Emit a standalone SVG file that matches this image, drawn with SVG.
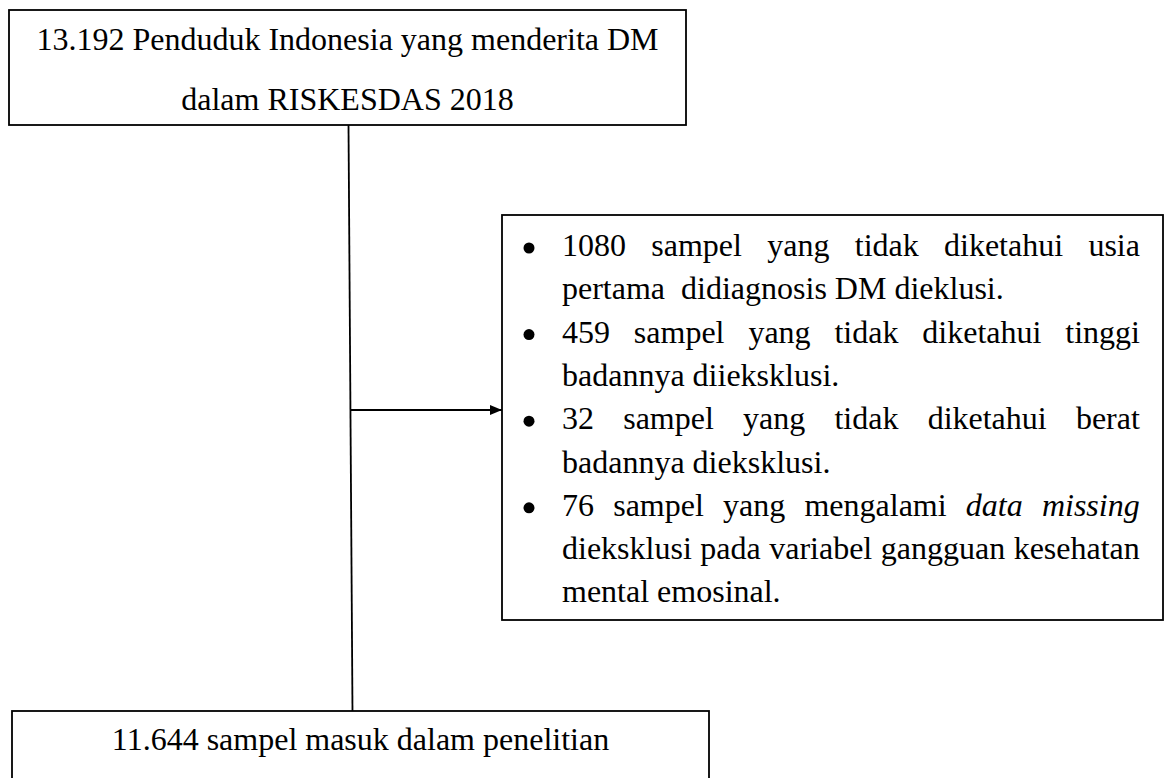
<svg xmlns="http://www.w3.org/2000/svg" width="1166" height="778" viewBox="0 0 1166 778">
<style>
.box{fill:#fff;stroke:#000;stroke-width:1.8}
.t{font-family:"Liberation Serif","Times New Roman",serif;font-size:32px;fill:#000}
.c{text-anchor:middle}
.ln{stroke:#000;stroke-width:1.8;fill:none}
</style>
<defs>
<marker id="ah" markerWidth="12" markerHeight="10" refX="12" refY="5" orient="auto" markerUnits="userSpaceOnUse">
<path d="M0,0 L12,5 L0,10 Z" fill="#000"/>
</marker>
</defs>
<rect width="1166" height="778" fill="#fff"/>
<g id="connectors">
<line class="ln" x1="348.5" y1="125" x2="352.5" y2="711"/>
<line class="ln" x1="350.5" y1="410" x2="502" y2="410" marker-end="url(#ah)"/>
</g>
<g id="node-top">
<rect class="box" x="9" y="10" width="677" height="115"/>
<text class="t c" x="347.5" y="50">13.192 Penduduk Indonesia yang menderita DM</text>
<text class="t c" x="347.5" y="110">dalam RISKESDAS 2018</text>
</g>
<g id="node-exclusion">
<rect class="box" x="502" y="215" width="661" height="405"/>
<g fill="#000">
<circle cx="529" cy="248" r="5.5"/>
<circle cx="529" cy="334.6" r="5.5"/>
<circle cx="529" cy="421.2" r="5.5"/>
<circle cx="529" cy="507.8" r="5.5"/>
</g>
<text class="t" x="562" y="256" word-spacing="17.3">1080 sampel yang tidak diketahui usia</text>
<text class="t" x="562" y="299.3" style="white-space:pre">pertama  didiagnosis DM dieklusi.</text>
<text class="t" x="562" y="342.6" word-spacing="15.87">459 sampel yang tidak diketahui tinggi</text>
<text class="t" x="562" y="385.9">badannya diieksklusi.</text>
<text class="t" x="562" y="429.2" word-spacing="21.2">32 sampel yang tidak diketahui berat</text>
<text class="t" x="562" y="472.5">badannya dieksklusi.</text>
<text class="t" x="562" y="515.8" word-spacing="11.2">76 sampel yang mengalami <tspan font-style="italic">data missing</tspan></text>
<text class="t" x="562" y="559.1" word-spacing="0.5">dieksklusi pada variabel gangguan kesehatan</text>
<text class="t" x="562" y="602.4">mental emosinal.</text>
</g>
<g id="node-bottom">
<rect class="box" x="12" y="711" width="697" height="80"/>
<text class="t c" x="360.5" y="750">11.644 sampel masuk dalam penelitian</text>
</g>
</svg>
